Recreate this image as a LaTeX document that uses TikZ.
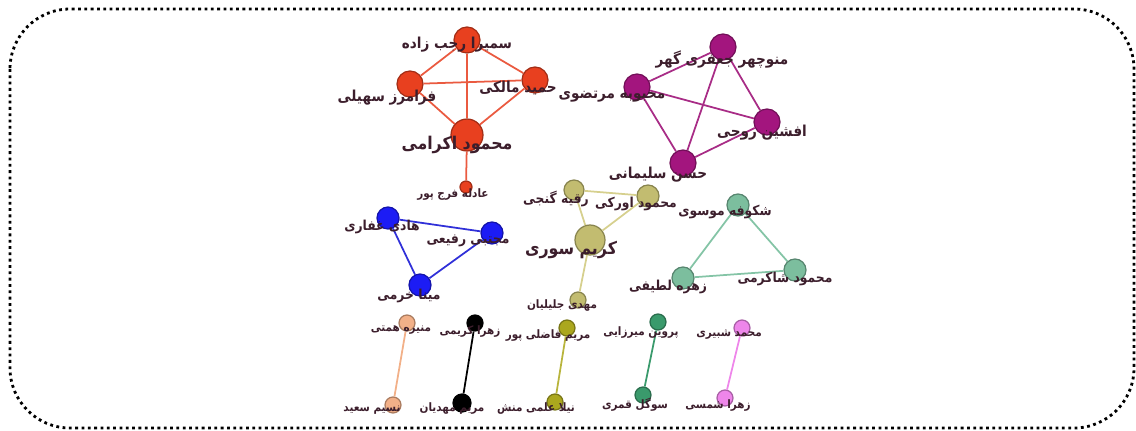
\documentclass[tikz,border=0pt]{standalone}
\usepackage{fontspec}
\usepackage{tikz}
\newfontfamily\farsifont[Script=Arabic]{DejaVu Sans Condensed}
\TeXXeTstate=1
\newcommand{\fatext}[1]{\farsifont\bfseries\beginR #1\endR}

\definecolor{labcol}{HTML}{3C1E2C}
\definecolor{redfill}{HTML}{E8401F}
\definecolor{redline}{HTML}{EA5A40}
\definecolor{purfill}{HTML}{A3157E}
\definecolor{purline}{HTML}{A82C86}
\definecolor{bluefill}{HTML}{1C1CF5}
\definecolor{blueline}{HTML}{3030D8}
\definecolor{khakifill}{HTML}{C2BC70}
\definecolor{khakiline}{HTML}{D6D08E}
\definecolor{tealfill}{HTML}{7CBE9E}
\definecolor{tealline}{HTML}{84C4A6}
\definecolor{peachfill}{HTML}{F2B088}
\definecolor{olivefill}{HTML}{ABA71E}
\definecolor{olivline}{HTML}{B8B43C}
\definecolor{greenfill}{HTML}{3A9A6C}
\definecolor{violfill}{HTML}{EE86EA}

\begin{document}
\begin{tikzpicture}[x=0.02cm,y=-0.02cm,
  vert/.style={circle,inner sep=0pt,line width=0.7pt},
  lab/.style={inner sep=0pt,text=labcol},
  bigfont/.style={font=\fontsize{10}{12}\selectfont},
  medfont/.style={font=\fontsize{8.6}{10}\selectfont},
  smlfont/.style={font=\fontsize{7.8}{9}\selectfont},
  tinyfont/.style={font=\fontsize{6.6}{8}\selectfont},
  link/.style={line width=1pt}]
\useasboundingbox (0,0) rectangle (1136,430);
\draw [line width=1.6pt,dash pattern=on 1.6pt off 2pt,rounded corners=1.2cm] (10,9) rectangle (1134,428);

% red group
\node [vert,fill=redfill,draw=redfill!70!black,minimum size=0.52cm] (samira) at (467,40) {};
\node [vert,fill=redfill,draw=redfill!70!black,minimum size=0.52cm] (faramarz) at (410,84) {};
\node [vert,fill=redfill,draw=redfill!70!black,minimum size=0.52cm] (hamid) at (535,80) {};
\node [vert,fill=redfill,draw=redfill!70!black,minimum size=0.64cm] (akrami) at (467,135) {};
\node [vert,fill=redfill,draw=redfill!70!black,minimum size=0.24cm] (adeleh) at (466,187) {};
\draw [link,redline] (samira) -- (faramarz);
\draw [link,redline] (samira) -- (hamid);
\draw [link,redline] (samira) -- (akrami);
\draw [link,redline] (faramarz) -- (hamid);
\draw [link,redline] (faramarz) -- (akrami);
\draw [link,redline] (hamid) -- (akrami);
\draw [link,redline] (akrami) -- (adeleh);

% purple group
\node [vert,fill=purfill,draw=purfill!70!black,minimum size=0.52cm] (manuchehr) at (723,47) {};
\node [vert,fill=purfill,draw=purfill!70!black,minimum size=0.52cm] (mahbubeh) at (637,87) {};
\node [vert,fill=purfill,draw=purfill!70!black,minimum size=0.52cm] (afshin) at (767,122) {};
\node [vert,fill=purfill,draw=purfill!70!black,minimum size=0.52cm] (hasan) at (683,163) {};
\draw [link,purline] (manuchehr) -- (mahbubeh);
\draw [link,purline] (manuchehr) -- (afshin);
\draw [link,purline] (manuchehr) -- (hasan);
\draw [link,purline] (mahbubeh) -- (afshin);
\draw [link,purline] (mahbubeh) -- (hasan);
\draw [link,purline] (afshin) -- (hasan);

% blue group
\node [vert,fill=bluefill,draw=bluefill!70!black,minimum size=0.44cm] (hadi) at (388,218) {};
\node [vert,fill=bluefill,draw=bluefill!70!black,minimum size=0.44cm] (mojtaba) at (492,233) {};
\node [vert,fill=bluefill,draw=bluefill!70!black,minimum size=0.44cm] (mina) at (420,285) {};
\draw [link,blueline] (hadi) -- (mojtaba);
\draw [link,blueline] (hadi) -- (mina);
\draw [link,blueline] (mojtaba) -- (mina);

% khaki group
\node [vert,fill=khakifill,draw=khakifill!70!black,minimum size=0.40cm] (roqayeh) at (574,190) {};
\node [vert,fill=khakifill,draw=khakifill!70!black,minimum size=0.44cm] (orki) at (648,196) {};
\node [vert,fill=khakifill,draw=khakifill!70!black,minimum size=0.60cm] (karim) at (590,240) {};
\node [vert,fill=khakifill,draw=khakifill!70!black,minimum size=0.32cm] (mahdi) at (578,300) {};
\draw [link,khakiline] (roqayeh) -- (orki);
\draw [link,khakiline] (roqayeh) -- (karim);
\draw [link,khakiline] (orki) -- (karim);
\draw [link,khakiline] (karim) -- (mahdi);

% teal group
\node [vert,fill=tealfill,draw=tealfill!70!black,minimum size=0.44cm] (shokufeh) at (738,205) {};
\node [vert,fill=tealfill,draw=tealfill!70!black,minimum size=0.44cm] (zohreh) at (683,278) {};
\node [vert,fill=tealfill,draw=tealfill!70!black,minimum size=0.44cm] (shakarami) at (795,270) {};
\draw [link,tealline] (shokufeh) -- (zohreh);
\draw [link,tealline] (shokufeh) -- (shakarami);
\draw [link,tealline] (zohreh) -- (shakarami);

% pairs
\node [vert,fill=peachfill,draw=peachfill!70!black,minimum size=0.32cm] (monireh) at (407,323) {};
\node [vert,fill=peachfill,draw=peachfill!70!black,minimum size=0.32cm] (nasim) at (393,405) {};
\draw [link,peachfill] (monireh) -- (nasim);
\node [vert,fill=black,draw=black,minimum size=0.32cm] (zkarimi) at (475,323) {};
\node [vert,fill=black,draw=black,minimum size=0.36cm] (mahdian) at (462,403) {};
\draw [link,black] (zkarimi) -- (mahdian);
\node [vert,fill=olivefill,draw=olivefill!70!black,minimum size=0.32cm] (fazeli) at (567,328) {};
\node [vert,fill=olivefill,draw=olivefill!70!black,minimum size=0.32cm] (nila) at (555,402) {};
\draw [link,olivline] (fazeli) -- (nila);
\node [vert,fill=greenfill,draw=greenfill!70!black,minimum size=0.32cm] (parvin) at (658,322) {};
\node [vert,fill=greenfill,draw=greenfill!70!black,minimum size=0.32cm] (sogol) at (643,395) {};
\draw [link,greenfill] (parvin) -- (sogol);
\node [vert,fill=violfill,draw=violfill!70!black,minimum size=0.32cm] (shobeiri) at (742,328) {};
\node [vert,fill=violfill,draw=violfill!70!black,minimum size=0.32cm] (shamsi) at (725,398) {};
\draw [link,violfill] (shobeiri) -- (shamsi);

% labels
\node [lab,medfont] (samira-t) at (457,45) {\fatext{سمیرا رجب زاده}};
\node [lab,medfont] (faramarz-t) at (387,98) {\fatext{فرامرز سهیلی}};
\node [lab,medfont] (hamid-t) at (518,88) {\fatext{حمید مالکی}};
\node [lab,bigfont] (akrami-t) at (457,145) {\fatext{محمود اکرامی}};
\node [lab,tinyfont] (adeleh-t) at (453,195) {\fatext{عادله فرج پور}};
\node [lab,medfont] (manuchehr-t) at (722,59) {\fatext{منوچهر جعفری گهر}};
\node [lab,medfont] (mahbubeh-t) at (612,97) {\fatext{محبوبه مرتضوی}};
\node [lab,medfont] (afshin-t) at (762,133) {\fatext{افشین روحی}};
\node [lab,medfont] (hasan-t) at (658,175) {\fatext{حسن سلیمانی}};
\node [lab,smlfont] (hadi-t) at (382,227) {\fatext{هادی غفاری}};
\node [lab,smlfont] (mojtaba-t) at (468,241) {\fatext{مجتبی رفیعی}};
\node [lab,smlfont] (mina-t) at (409,296) {\fatext{مینا خرمی}};
\node [lab,smlfont] (roqayeh-t) at (556,199) {\fatext{رقیه گنجی}};
\node [lab,smlfont] (orki-t) at (636,204) {\fatext{محمود اورکی}};
\node [lab,bigfont] (karim-t) at (571,250) {\fatext{کریم سوری}};
\node [lab,tinyfont] (mahdi-t) at (562,306) {\fatext{مهدی جلیلیان}};
\node [lab,smlfont] (shokufeh-t) at (725,212) {\fatext{شکوفه موسوی}};
\node [lab,smlfont] (zohreh-t) at (668,287) {\fatext{زهره لطیفی}};
\node [lab,smlfont] (shakarami-t) at (785,279) {\fatext{محمود شاکرمی}};
\node [lab,tinyfont] (monireh-t) at (401,330) {\fatext{منیره همتی}};
\node [lab,tinyfont] (nasim-t) at (372,410) {\fatext{نسیم سعید}};
\node [lab,tinyfont] (zkarimi-t) at (470,332) {\fatext{زهرا کریمی}};
\node [lab,tinyfont] (mahdian-t) at (452,409) {\fatext{مریم مهدیان}};
\node [lab,tinyfont] (fazeli-t) at (548,336) {\fatext{مریم فاضلی پور}};
\node [lab,tinyfont] (nila-t) at (536,409) {\fatext{نیلا علمی منش}};
\node [lab,tinyfont] (parvin-t) at (641,333) {\fatext{پروین میرزایی}};
\node [lab,tinyfont] (sogol-t) at (635,405) {\fatext{سوگل قمری}};
\node [lab,tinyfont] (shobeiri-t) at (729,335) {\fatext{محمد شبیری}};
\node [lab,tinyfont] (shamsi-t) at (718,406) {\fatext{زهرا شمسی}};
\end{tikzpicture}
\end{document}
